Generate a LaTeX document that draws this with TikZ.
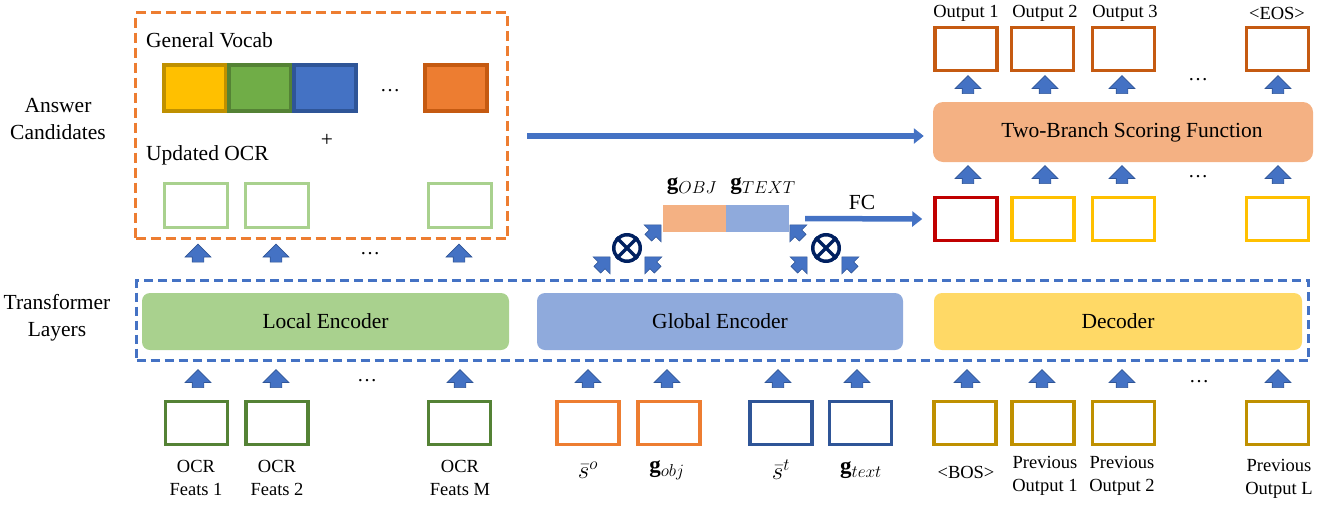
\documentclass[tikz,border=0pt]{standalone}
\usepackage{fontspec}
\setmainfont{Liberation Serif}
\usetikzlibrary{shapes.arrows,arrows.meta}
\definecolor{ablue}{HTML}{4472C4}
\definecolor{ablueD}{HTML}{2F5597}
\definecolor{aorange}{HTML}{ED7D31}
\definecolor{aorangeD}{HTML}{C55A11}
\definecolor{ayellow}{HTML}{FFC000}
\definecolor{ayellowD}{HTML}{BF9000}
\definecolor{agreen}{HTML}{70AD47}
\definecolor{agreenD}{HTML}{548235}
\definecolor{lgreen}{HTML}{A9D18E}
\definecolor{lblue}{HTML}{8FAADC}
\definecolor{lgold}{HTML}{FFD966}
\definecolor{lorange}{HTML}{F4B183}
\definecolor{ared}{HTML}{C00000}
\definecolor{navy}{HTML}{002060}
\begin{document}
\begin{tikzpicture}[x=1pt,y=-1pt,
  bigt/.style={font=\fontsize{21.5}{27}\selectfont, align=center},
  smt/.style={font=\fontsize{18.5}{23}\selectfont, align=center},
  mt/.style={font=\fontsize{23}{27}\selectfont},
  fbox/.style={draw, line width=3.5pt, fill=white, minimum width=62pt, minimum height=43pt, inner sep=0pt},
  vbox/.style={draw, line width=4pt, minimum width=62pt, minimum height=46pt, inner sep=0pt},
  uparr/.style={single arrow, draw=ablueD, fill=ablue, line width=0.6pt, rotate=90, minimum height=18pt, minimum width=22pt, inner xsep=0pt, inner ysep=5.5pt},
  darr/.style={single arrow, draw=ablueD, fill=ablue, line width=0.6pt, minimum height=18pt, minimum width=17pt, inner xsep=0pt, inner ysep=4.5pt},
  enc/.style={rounded corners=8pt, minimum height=57pt, inner sep=0pt, bigt},
  longarr/.style={ablue, line width=5.5pt, -{Triangle[length=10pt,width=15pt]}},
  otimesn/.style={circle, draw=navy, line width=3.5pt, minimum size=26.5pt, inner sep=0pt},
  dotsn/.style={font=\fontsize{20}{24}\selectfont, inner sep=0pt}
]
\useasboundingbox (0,0) rectangle (1331,504);

% left labels
\node[bigt] (lblA) at (58,119) {Answer\\Candidates};
\node[bigt] (lblT) at (57,318) {Transformer\\Layers};

% answer candidates frame
\node[draw=aorange, line width=3pt, dash pattern=on 10pt off 5pt, minimum width=372pt, minimum height=226pt, inner sep=0pt] (cand) at (321.5,125.5) {};
\node[bigt, anchor=west, inner sep=0pt] (gv) at (146,40) {General Vocab};
\node[bigt, anchor=west, inner sep=0pt] (uo) at (146,155) {Updated OCR};
\node[bigt] (plus) at (327,140) {+};
\node[vbox, draw=ayellowD, fill=ayellow] (v1) at (194.5,88) {};
\node[vbox, draw=agreenD, fill=agreen] (v2) at (259.5,88) {};
\node[vbox, draw=ablueD, fill=ablue] (v3) at (324.5,88) {};
\node[dotsn] (vd) at (390,91) {\dots};
\node[vbox, draw=aorangeD, fill=aorange] (v4) at (456,88) {};
\node[fbox, draw=lgreen, line width=3pt, minimum width=63pt, minimum height=44pt] (u1) at (196,205.5) {};
\node[fbox, draw=lgreen, line width=3pt, minimum width=63pt, minimum height=44pt] (u2) at (276.5,205.5) {};
\node[fbox, draw=lgreen, line width=3pt, minimum width=63pt, minimum height=44pt] (u3) at (459.5,205.5) {};

\node[uparr] (ca1) at (198,256) {};
\node[uparr] (ca2) at (276,256) {};
\node[dotsn] (cad) at (370,254) {\dots};
\node[uparr] (ca3) at (459,256) {};

% transformer frame
\node[draw=ablue, line width=3pt, dash pattern=on 9pt off 5pt, minimum width=1172pt, minimum height=80pt, inner sep=0pt] (tl) at (722.5,320.5) {};
\node[enc, fill=lgreen, minimum width=367pt] (loc) at (325.5,321.5) {Local Encoder};
\node[enc, fill=lblue, minimum width=366pt] (glo) at (720,321.5) {Global Encoder};
\node[enc, fill=lgold, minimum width=368pt] (dec) at (1118,321.5) {Decoder};

% bottom inputs
\node[fbox, draw=agreenD] (o1) at (196.5,423) {};
\node[fbox, draw=agreenD] (o2) at (277,423) {};
\node[fbox, draw=agreenD] (o3) at (459.5,423) {};
\node[fbox, draw=aorange] (so) at (588,423) {};
\node[fbox, draw=aorange] (go) at (669,423) {};
\node[fbox, draw=ablueD] (st) at (781,423) {};
\node[fbox, draw=ablueD] (gt) at (860.5,423) {};
\node[fbox, draw=ayellowD] (p0) at (965,423) {};
\node[fbox, draw=ayellowD] (p1) at (1043,423) {};
\node[fbox, draw=ayellowD] (p2) at (1123.5,423) {};
\node[fbox, draw=ayellowD] (pL) at (1277.5,423) {};

\node[uparr] (ba1) at (198,381.5) {};
\node[uparr] (ba2) at (276,381.5) {};
\node[dotsn] (bd1) at (367,381) {\dots};
\node[uparr] (ba3) at (460,381.5) {};
\node[uparr] (ba4) at (588,381.5) {};
\node[uparr] (ba5) at (667,381.5) {};
\node[uparr] (ba6) at (778,381.5) {};
\node[uparr] (ba7) at (857,381.5) {};
\node[uparr] (ba8) at (967,381.5) {};
\node[uparr] (ba9) at (1042,381.5) {};
\node[uparr] (ba10) at (1122,381.5) {};
\node[dotsn] (bd2) at (1199,382) {\dots};
\node[uparr] (ba11) at (1278,381.5) {};

\node[smt] (lo1) at (196,478) {OCR\\Feats 1};
\node[smt] (lo2) at (277,478) {OCR\\Feats 2};
\node[smt] (lo3) at (460,478) {OCR\\Feats M};
\node[mt] (lso) at (588,470) {$\bar{s}^{o}$};
\node[mt] (lgo) at (667,470) {$\mathbf{g}_{obj}$};
\node[mt] (lst) at (781,470) {$\bar{s}^{t}$};
\node[mt] (lgt) at (861,470) {$\mathbf{g}_{text}$};
\node[smt] (lp0) at (966,472) {<BOS>};
\node[smt] (lp1) at (1045,476) {Previous\\Output 1};
\node[smt] (lp2) at (1122,476) {Previous\\Output 2};
\node[smt] (lpL) at (1279,479) {Previous\\Output L};

% decoder side
\node[fbox, draw=ared] (r1) at (966,219) {};
\node[fbox, draw=ayellow] (r2) at (1043,219) {};
\node[fbox, draw=ayellow] (r3) at (1123.5,219) {};
\node[fbox, draw=ayellow] (rL) at (1277.5,219) {};
\node[uparr] (ma1) at (968,177.5) {};
\node[uparr] (ma2) at (1045,177.5) {};
\node[uparr] (ma3) at (1122,177.5) {};
\node[dotsn] (md) at (1198,177) {\dots};
\node[uparr] (ma4) at (1278,177.5) {};
\node[rounded corners=10pt, fill=lorange, minimum width=380pt, minimum height=60pt, inner sep=0pt, bigt] (two) at (1123,132) {\hspace*{18pt}Two-Branch Scoring Function};
\node[uparr] (ta1) at (968,87.5) {};
\node[uparr] (ta2) at (1045,87.5) {};
\node[uparr] (ta3) at (1122,87.5) {};
\node[dotsn] (td) at (1198,80) {\dots};
\node[uparr] (ta4) at (1278,87.5) {};
\node[fbox, draw=aorangeD] (t1) at (966,49) {};
\node[fbox, draw=aorangeD] (t2) at (1042.5,49) {};
\node[fbox, draw=aorangeD] (t3) at (1123.5,49) {};
\node[fbox, draw=aorangeD] (tL) at (1277.5,49) {};
\node[smt] (lt1) at (966,13) {Output 1};
\node[smt] (lt2) at (1045,13) {Output 2};
\node[smt] (lt3) at (1125,13) {Output 3};
\node[smt] (ltL) at (1277,13) {<EOS>};

% global feature concat
\node[fill=lorange, minimum width=63pt, minimum height=27pt, inner sep=0pt] (gobj) at (694.5,218.5) {};
\node[fill=lblue, minimum width=63pt, minimum height=27pt, inner sep=0pt] (gtext) at (757.5,218.5) {};
\node[mt] (lgobj) at (692,186) {$\mathbf{g}_{OBJ}$};
\node[mt] (lgtext) at (763,186) {$\mathbf{g}_{TEXT}$};

\node[otimesn] (ox1) at (627,248) {};
\draw[navy, line width=3.5pt] (ox1.north east) -- (ox1.south west) (ox1.north west) -- (ox1.south east);
\node[otimesn] (ox2) at (826,248) {};
\draw[navy, line width=3.5pt] (ox2.north east) -- (ox2.south west) (ox2.north west) -- (ox2.south east);

\node[darr, rotate=45] (d1) at (602,265) {};
\node[darr, rotate=135] (d2) at (653,265) {};
\node[darr, rotate=45] (d3) at (653,233) {};
\node[darr, rotate=135] (d4) at (798,233) {};
\node[darr, rotate=45] (d5) at (799,265) {};
\node[darr, rotate=135] (d6) at (850,265) {};

% long arrows
\draw[longarr] ([shift={(18,10.5)}]cand.east) -- ([shift={(-9,4)}]two.west);
\draw[longarr] ([xshift=16pt]gtext.east) -- ([xshift=-11pt]r1.west);
\node[bigt] (fc) at (862,202) {FC};
\end{tikzpicture}
\end{document}
